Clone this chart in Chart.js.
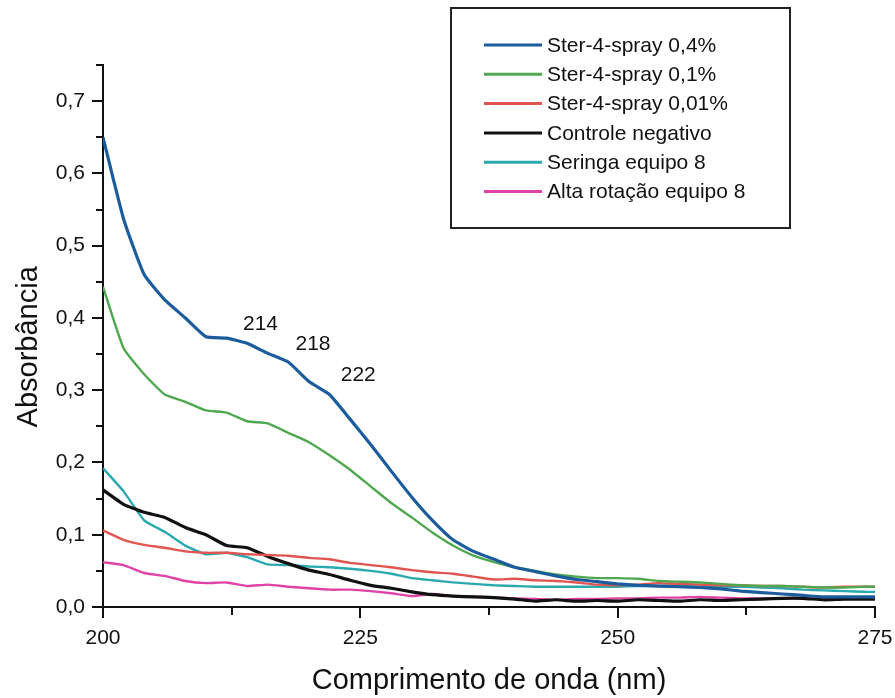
<!DOCTYPE html>
<html>
<head>
<meta charset="utf-8">
<script src="https://cdn.jsdelivr.net/npm/chart.js@4.4.1/dist/chart.umd.min.js"></script>
<style>
html,body{margin:0;padding:0;background:#fff;}
#wrap{width:895px;height:698px;position:relative;}
</style>
</head>
<body>
<div id="wrap"><canvas id="c" width="895" height="698"></canvas></div>
<script>
const wavelengths = [200,202,204,206,208,210,212,214,216,218,220,222,224,226,228,230,232,234,236,238,240,242,244,246,248,250,252,254,256,258,260,262,264,266,268,270,272,274,275];

const ster04 = [0.650,0.537,0.460,0.425,0.400,0.374,0.372,0.365,0.351,0.339,0.312,0.294,0.260,0.225,0.188,0.152,0.120,0.093,0.077,0.066,0.055,0.049,0.043,0.038,0.035,0.032,0.030,0.029,0.028,0.027,0.025,0.022,0.020,0.018,0.016,0.014,0.014,0.014,0.014];
const ster01 = [0.443,0.358,0.322,0.294,0.284,0.272,0.269,0.257,0.254,0.241,0.228,0.210,0.190,0.167,0.144,0.124,0.103,0.085,0.071,0.062,0.055,0.050,0.045,0.042,0.040,0.040,0.039,0.036,0.035,0.034,0.032,0.030,0.029,0.029,0.028,0.027,0.027,0.028,0.028];
const ster001 = [0.106,0.093,0.086,0.082,0.077,0.075,0.075,0.073,0.072,0.071,0.068,0.066,0.061,0.058,0.055,0.051,0.048,0.046,0.042,0.038,0.039,0.037,0.036,0.034,0.031,0.030,0.031,0.033,0.032,0.031,0.030,0.030,0.029,0.029,0.028,0.027,0.028,0.028,0.028];
const controle = [0.162,0.142,0.131,0.124,0.110,0.100,0.085,0.082,0.070,0.060,0.051,0.045,0.037,0.030,0.026,0.021,0.017,0.015,0.014,0.013,0.011,0.008,0.010,0.008,0.009,0.008,0.010,0.009,0.008,0.010,0.009,0.010,0.011,0.012,0.012,0.010,0.011,0.011,0.011];
const seringa = [0.192,0.160,0.120,0.104,0.085,0.073,0.075,0.069,0.059,0.058,0.056,0.055,0.053,0.050,0.046,0.040,0.037,0.034,0.032,0.030,0.029,0.028,0.028,0.028,0.028,0.028,0.029,0.029,0.029,0.028,0.028,0.028,0.027,0.026,0.024,0.023,0.022,0.021,0.021];
const altaRotacao = [0.062,0.058,0.047,0.043,0.036,0.033,0.034,0.029,0.031,0.028,0.026,0.024,0.024,0.022,0.019,0.015,0.018,0.015,0.014,0.013,0.012,0.011,0.010,0.011,0.011,0.012,0.012,0.013,0.013,0.014,0.013,0.012,0.012,0.012,0.012,0.012,0.012,0.012,0.012];

const seriesLabels = ['Ster-4-spray 0,4%','Ster-4-spray 0,1%','Ster-4-spray 0,01%','Controle negativo','Seringa equipo 8','Alta rotação equipo 8'];
const xTickLabels = [200,225,250,275];
const yTickLabels = [0,0.1,0.2,0.3,0.4,0.5,0.6,0.7];
const peakLabels = ['214','218','222'];
const peakX = [215.3,220.4,224.8];
const peakY = [0.392,0.364,0.321];
const yTitle = 'Absorbância';
const xTitle = 'Comprimento de onda (nm)';

const FONT = '"Liberation Sans", Arial, Helvetica, sans-serif';
const colors = ['#1d5c9c','#4fa84f','#e05550','#111111','#2aa9ae','#e043a6'];
const widths = [3.2,2.4,2.4,3.2,2.4,2.4];
const seriesData = [ster04, ster01, ster001, controle, seringa, altaRotacao];

const datasets = seriesData.map((arr,i)=>({
  label: seriesLabels[i],
  data: wavelengths.map((w,j)=>({x:w,y:arr[j]})),
  borderColor: colors[i],
  backgroundColor: colors[i],
  borderWidth: widths[i],
  pointRadius: 0,
  tension: 0.15,
  fill: false,
  order: i
}));

const fmt = v => v.toFixed(1).replace('.',',');

const decorPlugin = {
  id:'decor',
  afterDatasetsDraw(chart){
    const ctx = chart.ctx;
    const xs = chart.scales.x, ys = chart.scales.y;
    ctx.save();
    ctx.strokeStyle = '#111';
    ctx.lineWidth = 2;
    for(let k=0;k<=15;k++){
      const v = k*0.05;
      const py = Math.round(ys.getPixelForValue(v));
      const len = (k%2===0)?11:7;
      ctx.beginPath();
      ctx.moveTo(xs.left, py);
      ctx.lineTo(xs.left-len, py);
      ctx.stroke();
    }
    for(let k=0;k<=6;k++){
      const v = 200 + k*12.5;
      const px = Math.round(xs.getPixelForValue(v));
      const len = (k%2===0)?11:8;
      ctx.beginPath();
      ctx.moveTo(px, ys.bottom);
      ctx.lineTo(px, ys.bottom+len);
      ctx.stroke();
    }
    ctx.fillStyle = '#111';
    ctx.font = '21px ' + FONT;
    ctx.textAlign = 'center';
    ctx.textBaseline = 'middle';
    peakLabels.forEach((t,i)=>{
      ctx.fillText(t, xs.getPixelForValue(peakX[i]), ys.getPixelForValue(peakY[i]));
    });
    // y axis title
    ctx.save();
    ctx.font = '29px ' + FONT;
    ctx.translate(29, ys.getPixelForValue(0.36));
    ctx.rotate(-Math.PI/2);
    ctx.fillText(yTitle, 0, 0);
    ctx.restore();
    // legend
    const bx = 451, by = 8, bw = 339, bh = 220;
    ctx.lineWidth = 2;
    ctx.strokeStyle = '#222';
    ctx.fillStyle = '#fff';
    ctx.fillRect(bx,by,bw,bh);
    ctx.strokeRect(bx,by,bw,bh);
    ctx.textAlign = 'left';
    ctx.font = '21px ' + FONT;
    chart.data.datasets.forEach((d,i)=>{
      const cy = 45 + i*29.3;
      ctx.strokeStyle = d.borderColor;
      ctx.lineWidth = 3;
      ctx.beginPath();
      ctx.moveTo(484, cy);
      ctx.lineTo(542, cy);
      ctx.stroke();
      ctx.fillStyle = '#111';
      ctx.fillText(d.label, 547, cy+1);
    });
    ctx.restore();
  }
};

new Chart(document.getElementById('c'), {
  type:'line',
  data:{ datasets },
  options:{
    responsive:false,
    animation:false,
    layout:{ padding:{ top:65, right:20, left:0, bottom:0 } },
    plugins:{ legend:{display:false}, tooltip:{enabled:false} },
    scales:{
      x:{
        type:'linear', min:200, max:275,
        afterFit(s){ s.height = 91; s.paddingRight = 0; s.paddingLeft = 0; },
        afterBuildTicks(s){ s.ticks = xTickLabels.map(v=>({value:v})); },
        grid:{ display:false, drawTicks:false },
        border:{ display:true, color:'#111', width:2 },
        ticks:{ color:'#111', font:{ family:FONT, size:21 }, padding:19, maxRotation:0,
          callback:v=>String(v) },
        title:{ display:true, text:xTitle, color:'#111',
          font:{ family:FONT, size:29 }, padding:{top:10,bottom:0} }
      },
      y:{
        type:'linear', min:0, max:0.75,
        afterFit(s){ s.width = 103; s.paddingTop = 0; s.paddingBottom = 0; },
        afterBuildTicks(s){ s.ticks = yTickLabels.map(v=>({value:v})); },
        grid:{ display:false, drawTicks:false },
        border:{ display:true, color:'#111', width:2 },
        ticks:{ color:'#111', font:{ family:FONT, size:21 }, padding:18,
          callback:v=>fmt(v) },
        title:{ display:false }
      }
    }
  },
  plugins:[decorPlugin]
});
</script>
</body>
</html>
